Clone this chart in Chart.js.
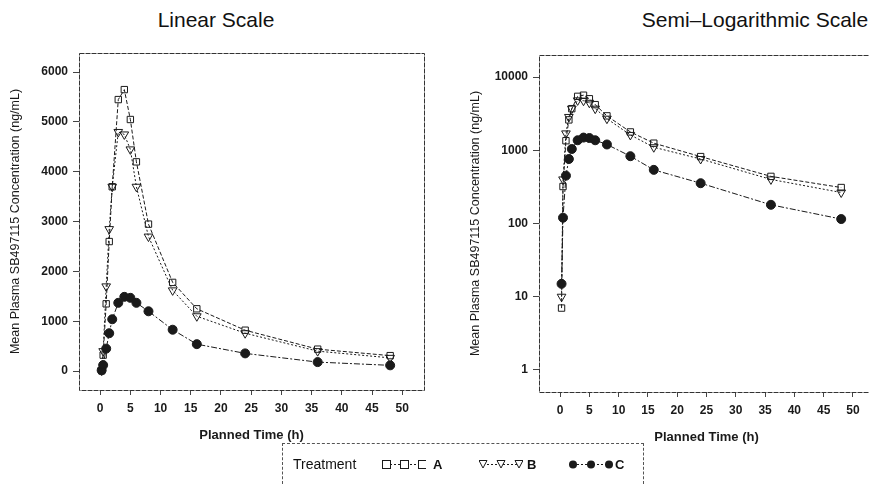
<!DOCTYPE html>
<html>
<head>
<meta charset="utf-8">
<script src="https://cdn.jsdelivr.net/npm/chart.js@4/dist/chart.umd.min.js"></script>
<style>
  html, body { margin: 0; padding: 0; background: #fff; overflow: hidden; }
  body { width: 869px; height: 486px; position: relative; }
  canvas { position: absolute; }
  .title { position: absolute; top: 8px; font-family: "Liberation Sans", sans-serif; font-size: 21px; color: #111; white-space: nowrap; transform: translateX(-50%); }
  #legend { position: absolute; left: 282px; top: 443px; width: 360px; height: 40px; border: 1px dashed #555; border-bottom: none; font-family: "Liberation Sans", sans-serif; color: #111; }
  #legend span { position: absolute; top: 12px; }
  #legend .lab { font-weight: bold; font-size: 13px; top: 13px; }
  #legend canvas { top: 13px; }
</style>
</head>
<body>
<div class="title" style="left:216px">Linear Scale</div>
<div class="title" style="left:755px">Semi&#8211;Logarithmic Scale</div>
<canvas id="linChart" width="430" height="445" style="left:0;top:0"></canvas>
<canvas id="logChart" width="420" height="445" style="left:460px;top:2px"></canvas>
<div id="legend">
  <span style="left:10px;font-size:14px">Treatment</span>
  <canvas id="legA" width="44" height="14" style="left:99px"></canvas><span class="lab" style="left:150px">A</span>
  <canvas id="legB" width="44" height="14" style="left:196px"></canvas><span class="lab" style="left:244px">B</span>
  <canvas id="legC" width="44" height="14" style="left:286px"></canvas><span class="lab" style="left:332px">C</span>
</div>
<script>
// planned sampling times (h) and mean concentrations (ng/mL)
const times = [0.25, 0.5, 1, 1.5, 2, 3, 4, 5, 6, 8, 12, 16, 24, 36, 48];
const treatmentA = [7, 320, 1350, 2600, 3700, 5450, 5650, 5050, 4200, 2950, 1780, 1250, 820, 440, 310];
const treatmentB = [10, 400, 1700, 2850, 3700, 4800, 4750, 4450, 3700, 2700, 1620, 1100, 760, 400, 265];
const treatmentC = [15, 120, 450, 760, 1040, 1370, 1490, 1470, 1370, 1200, 830, 540, 355, 180, 115];

const xTicks = [0, 5, 10, 15, 20, 25, 30, 35, 40, 45, 50];
const linTicks = [0, 1000, 2000, 3000, 4000, 5000, 6000];
const logTicks = [1, 10, 100, 1000, 10000];

const ink = '#1a1a1a';
const tickFont = { family: 'Liberation Sans, Arial, sans-serif', size: 12, weight: 'bold' };
const yTitle = 'Mean Plasma SB497115 Concentration (ng/mL)';

function pts(ys) {
  return times.map((t, i) => ({ x: t, y: ys[i] }));
}

function makeDatasets() {
  return [
    { label: 'A', data: pts(treatmentA), borderColor: ink, borderWidth: 1, borderDash: [4, 2],
      pointStyle: 'rect', pointRadius: 4.5, pointBorderColor: ink, pointBackgroundColor: 'rgba(255,255,255,0)', pointBorderWidth: 1 },
    { label: 'B', data: pts(treatmentB), borderColor: ink, borderWidth: 1, borderDash: [2, 2],
      pointStyle: 'triangle', pointRotation: 180, pointRadius: 5, pointBorderColor: ink, pointBackgroundColor: 'rgba(255,255,255,0)', pointBorderWidth: 1 },
    { label: 'C', data: pts(treatmentC), borderColor: ink, borderWidth: 1, borderDash: [6, 2, 2, 2],
      pointStyle: 'circle', pointRadius: 4.5, pointBorderColor: ink, pointBackgroundColor: ink, pointBorderWidth: 1 }
  ];
}

// frame round the plotting area
const frame = {
  id: 'frame',
  afterDraw(chart) {
    const a = chart.chartArea, ctx = chart.ctx;
    ctx.save();
    ctx.strokeStyle = '#333';
    ctx.lineWidth = 1;
    ctx.setLineDash([5, 1]);
    ctx.strokeRect(Math.round(a.left) + 0.5, Math.round(a.top) + 0.5, Math.round(a.right - a.left), Math.round(a.bottom - a.top));
    ctx.restore();
  }
};

function xScale(min, max) {
  return {
    type: 'linear', min: min, max: max,
    afterBuildTicks: s => { s.ticks = xTicks.map(v => ({ value: v })); },
    afterFit: s => { s.height = 55; },
    grid: { display: true, drawOnChartArea: false, drawTicks: true, tickLength: 5, color: '#444' },
    border: { display: false },
    ticks: { color: ink, font: tickFont, padding: 6, maxRotation: 0, callback: v => String(v) },
    title: { display: true, text: 'Planned Time (h)', color: ink,
      font: { family: 'Liberation Sans, Arial, sans-serif', size: 13, weight: 'bold' }, padding: { top: 2, bottom: 2 } }
  };
}

function yScale(extra) {
  return Object.assign({
    afterFit: s => { s.width = 79; },
    grid: { display: true, drawOnChartArea: false, drawTicks: true, tickLength: 6, color: '#444' },
    border: { display: false },
    ticks: { color: ink, font: tickFont, padding: 5, callback: v => String(v) },
    title: { display: true, text: yTitle, color: ink,
      font: { family: 'Liberation Sans, sans-serif', size: 12.5 }, padding: { top: 8, bottom: 2 } }
  }, extra);
}

function baseOptions(scales) {
  return {
    responsive: false, animation: false, devicePixelRatio: 1,
    layout: { padding: { top: 53, right: 6, left: 0, bottom: 0 } },
    plugins: { legend: { display: false }, tooltip: { enabled: false } },
    scales: scales
  };
}

new Chart(document.getElementById('linChart'), {
  type: 'line',
  data: { datasets: makeDatasets() },
  options: baseOptions({
    x: xScale(-3.5, 53.6),
    y: yScale({ type: 'linear', min: -380, max: 6385,
      afterBuildTicks: s => { s.ticks = linTicks.map(v => ({ value: v })); } })
  }),
  plugins: [frame]
});

new Chart(document.getElementById('logChart'), {
  type: 'line',
  data: { datasets: makeDatasets() },
  options: baseOptions({
    x: xScale(-3.6, 53.6),
    y: yScale({ type: 'logarithmic', min: 0.5, max: 20000,
      afterBuildTicks: s => { s.ticks = logTicks.map(v => ({ value: v })); } })
  }),
  plugins: [frame]
});

// small line-and-marker samples for the legend box
function legendIcon(id, style, dash) {
  const ctx = document.getElementById(id).getContext('2d');
  ctx.strokeStyle = ink;
  ctx.fillStyle = ink;
  ctx.lineWidth = 1;
  ctx.setLineDash(dash);
  ctx.beginPath(); ctx.moveTo(4, 7.5); ctx.lineTo(40, 7.5); ctx.stroke();
  ctx.setLineDash([]);
  [4, 22, 40].forEach(cx => {
    ctx.beginPath();
    if (style === 'rect') {
      ctx.fillStyle = '#fff';
      ctx.fillRect(cx - 4, 3.5, 8, 8);
      ctx.strokeRect(cx - 3.5, 3.5, 8, 8);
    } else if (style === 'tri') {
      ctx.fillStyle = '#fff';
      ctx.moveTo(cx - 4, 3.5); ctx.lineTo(cx + 4, 3.5); ctx.lineTo(cx, 11); ctx.closePath();
      ctx.fill(); ctx.stroke();
    } else {
      ctx.arc(cx, 7.5, 4, 0, Math.PI * 2); ctx.fill();
    }
  });
}
legendIcon('legA', 'rect', [2, 2]);
legendIcon('legB', 'tri', [2, 2]);
legendIcon('legC', 'circle', [2, 2]);
</script>
</body>
</html>
